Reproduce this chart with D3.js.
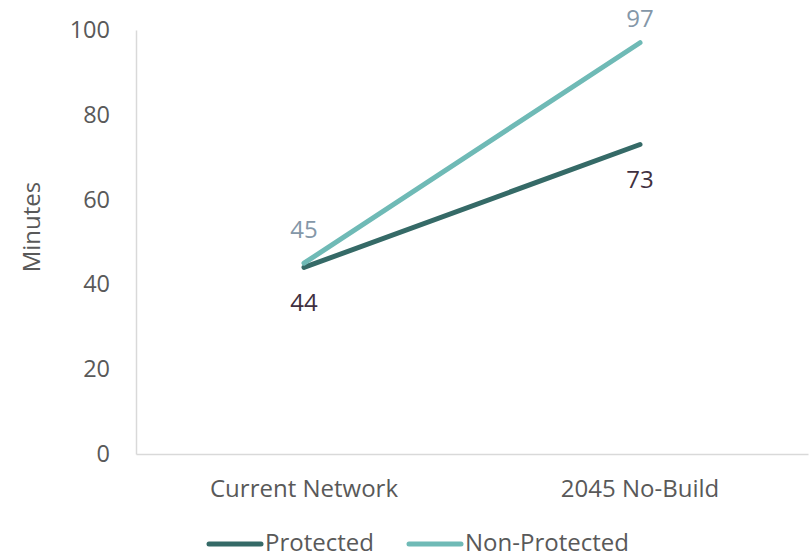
<!DOCTYPE html>
<html>
<head>
<meta charset="utf-8">
<script src="https://cdn.jsdelivr.net/npm/d3@7"></script>
<style>
  body { margin: 0; background: #fff; }
  text { font-family: "Open Sans", sans-serif; }
</style>
</head>
<body>
<div id="chart"></div>
<script>
// Data
const categories = ["Current Network", "2045 No-Build"];
const protectedValues = [44, 73];
const nonProtectedValues = [45, 97];
const yTicks = [0, 20, 40, 60, 80, 100];

const series = [
    { name: "Protected", values: protectedValues, color: "#356a67", labelColor: "#3f3040", labelDy: 44 },
    { name: "Non-Protected", values: nonProtectedValues, color: "#6fbab6", labelColor: "#8497a8", labelDy: -25 }
];

const width = 810, height = 557;
const margin = { top: 30, right: 2, bottom: 103, left: 136 };

const svg = d3.select("#chart")
              .append("svg")
              .attr("width", width)
              .attr("height", height);

const x = d3.scaleBand()
            .domain(categories)
            .range([margin.left, width - margin.right]);

const y = d3.scaleLinear()
            .domain([0, 100])
            .range([height - margin.bottom, margin.top]);

// y axis
const yAxis = svg.append("g")
                 .attr("transform", `translate(${margin.left},0)`)
                 .call(d3.axisLeft(y).tickValues(yTicks).tickSize(0).tickPadding(26));
yAxis.select(".domain").attr("stroke", "#d9d9d9").attr("stroke-width", 1.5);
yAxis.selectAll("text").attr("fill", "#595959").style("font-size", "23.5px");

// x axis
const xAxis = svg.append("g")
                 .attr("transform", `translate(0,${y(0)})`)
                 .call(d3.axisBottom(x).tickSize(0).tickPadding(26));
xAxis.select(".domain").attr("stroke", "#d9d9d9").attr("stroke-width", 1.5);
xAxis.selectAll("text").attr("fill", "#595959").style("font-size", "24px");

// y title
svg.append("text")
   .attr("transform", "translate(40,227) rotate(-90)")
   .attr("text-anchor", "middle")
   .attr("fill", "#595959")
   .style("font-size", "24px")
   .text("Minutes");

const line = d3.line()
               .x((d, i) => x(categories[i]) + x.bandwidth() / 2)
               .y(d => y(d));

series.forEach(s => {
    svg.append("path")
       .datum(s.values)
       .attr("d", line)
       .attr("fill", "none")
       .attr("stroke", s.color)
       .attr("stroke-width", 5)
       .attr("stroke-linecap", "round");

    svg.selectAll(null)
       .data(s.values)
       .enter()
       .append("text")
       .attr("x", (d, i) => x(categories[i]) + x.bandwidth() / 2)
       .attr("y", d => Math.max(y(d) + s.labelDy, 27))
       .attr("text-anchor", "middle")
       .attr("fill", s.labelColor)
       .style("font-size", "24px")
       .text(d => d);
});

// Legend
const legendItems = [
    { name: "Protected", color: "#356a67", x: 209 },
    { name: "Non-Protected", color: "#6fbab6", x: 409 }
];
const legend = svg.append("g").attr("transform", "translate(0,544)");
legendItems.forEach(item => {
    legend.append("line")
          .attr("x1", item.x).attr("x2", item.x + 52)
          .attr("y1", 0).attr("y2", 0)
          .attr("stroke", item.color)
          .attr("stroke-width", 5)
          .attr("stroke-linecap", "round");
    legend.append("text")
          .attr("x", item.x + 56)
          .attr("y", 7)
          .attr("fill", "#595959")
          .style("font-size", "24px")
          .text(item.name);
});
</script>
</body>
</html>
